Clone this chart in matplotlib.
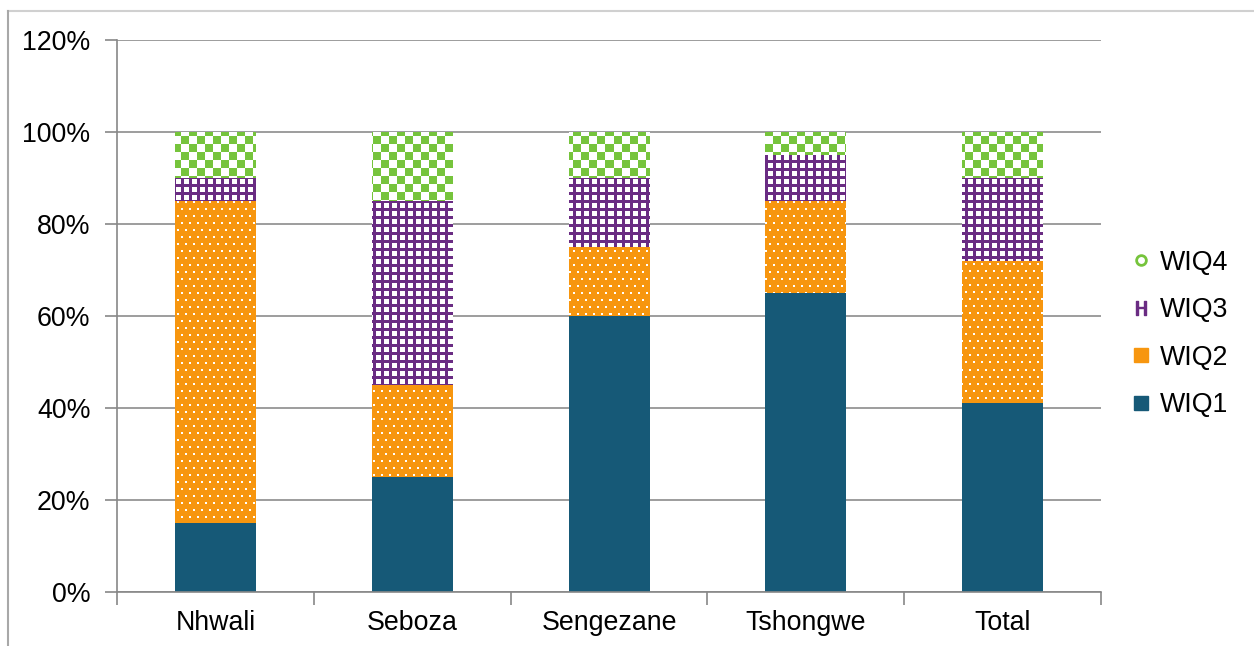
import numpy as np
import matplotlib
matplotlib.use("Agg")
import matplotlib.pyplot as plt
from matplotlib.lines import Line2D
from matplotlib.ticker import FuncFormatter, FixedLocator

plt.rcParams['font.family'] = ['Liberation Sans', 'DejaVu Sans']

categories = ["Nhwali", "Seboza", "Sengezane", "Tshongwe", "Total"]
wiq1 = [15, 25, 60, 65, 41]
wiq2 = [70, 20, 15, 20, 31]
wiq3 = [5, 40, 15, 10, 18]
wiq4 = [10, 15, 10, 5, 10]
series_names = ["WIQ1", "WIQ2", "WIQ3", "WIQ4"]
yticks = [0, 20, 40, 60, 80, 100, 120]

W, H = 1254, 646
fig = plt.figure(figsize=(W / 100, H / 100), dpi=100)
l, r, b, t = 117, 1101, 592, 40
ax = fig.add_axes([l / W, (H - b) / H, (r - l) / W, (b - t) / H])

# outer border
fig.add_artist(Line2D([8 / W, 1.0], [1 - 11 / H, 1 - 11 / H], color="#D0D0D0", lw=1.5, transform=fig.transFigure))
fig.add_artist(Line2D([8 / W, 8 / W], [0, 1 - 11 / H], color="#A8A8A8", lw=1.5, transform=fig.transFigure))

blue = "#165977"
orange = "#F7960F"
purple = "#6A2C83"
green = "#76C43C"

x = np.arange(len(categories))
bw = 0.41
data = [np.array(wiq1) / 100, np.array(wiq2) / 100, np.array(wiq3) / 100, np.array(wiq4) / 100]
bottoms = np.zeros(len(categories))
containers = []
for vals in data:
    c = ax.bar(x, vals, bw, bottom=bottoms, color="white", linewidth=0, zorder=3)
    containers.append(c)
    bottoms = bottoms + vals

# textures (pixel patterns), clipped to bars
pw, ph = r - l, b - t
yy, xx = np.mgrid[0:ph, 0:pw]

def rgb(hexc):
    hexc = hexc.lstrip('#')
    return np.array([int(hexc[i:i + 2], 16) / 255 for i in (0, 2, 4)])

white = np.ones(3)
tex = {}
# WIQ1 solid
t1 = np.empty((ph, pw, 3)); t1[:] = rgb(blue); tex[0] = t1
# WIQ2 orange with staggered white dots
t2 = np.empty((ph, pw, 3)); t2[:] = rgb(orange)
row = yy // 7
dots = ((yy % 7) < 2) & (((xx + (row % 2) * 4) % 8) < 2)
t2[dots] = white; tex[1] = t2
# WIQ3 white with purple grid
t3 = np.empty((ph, pw, 3)); t3[:] = white
gridm = ((xx % 8) < 3) | ((yy % 8) < 3)
t3[gridm] = rgb(purple); tex[2] = t3
# WIQ4 green/white checkerboard
t4 = np.empty((ph, pw, 3)); t4[:] = white
chk = ((xx // 8 + yy // 8) % 2) == 0
t4[chk] = rgb(green); tex[3] = t4

for i, c in enumerate(containers):
    for patch in c.patches:
        im = ax.imshow(tex[i], extent=[0, 1, 0, 1], transform=ax.transAxes,
                       interpolation='nearest', origin='upper', aspect='auto', zorder=4)
        im.set_clip_path(patch)

ax.set_xlim(-0.5, len(categories) - 0.5)
ax.set_ylim(0, 1.2)
ax.set_yticks([v / 100 for v in yticks])
ax.yaxis.set_major_formatter(FuncFormatter(lambda v, p: f"{int(round(v * 100))}%"))
ax.set_xticks(x)
ax.set_xticklabels(categories)
ax.xaxis.set_minor_locator(FixedLocator(np.arange(-0.5, len(categories), 1.0)))
ax.tick_params(axis='x', which='major', length=0, pad=13, labelsize=19.3)
ax.tick_params(axis='x', which='minor', length=9, width=1.2, color="#888888", direction='out')
ax.tick_params(axis='y', length=9, width=1.2, color="#888888", pad=10, labelsize=19.3)

ax.grid(axis='y', color="#8C8C8C", lw=1.2, zorder=0)
ax.set_axisbelow(True)
for s in ["top", "right"]:
    ax.spines[s].set_visible(False)
for s in ["left", "bottom"]:
    ax.spines[s].set_color("#888888")
    ax.spines[s].set_linewidth(1.2)
ax.spines["bottom"].set_zorder(5)

handles = [
    Line2D([], [], ls='none', marker='o', markersize=7, markerfacecolor='white', markeredgecolor=green, markeredgewidth=2),
    Line2D([], [], ls='none', marker='$\\mathsf{H}$', markersize=10, color=purple),
    Line2D([], [], ls='none', marker='s', markersize=10, color=orange),
    Line2D([], [], ls='none', marker='s', markersize=10, color=blue),
]
labels = ["WIQ4", "WIQ3", "WIQ2", "WIQ1"]
fig.legend(handles, labels, loc='center left', bbox_to_anchor=(1120 / W, 1 - 334 / H),
           frameon=False, fontsize=19.3, handlelength=0.6, handletextpad=0.4, labelspacing=0.8,
           borderpad=0)

fig.savefig("out.png", dpi=100)
